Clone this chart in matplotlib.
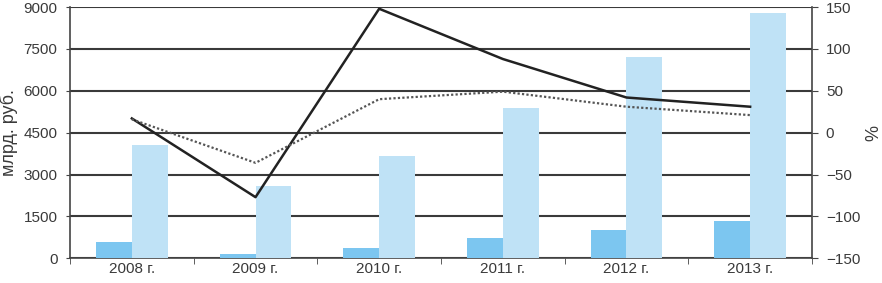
import matplotlib.pyplot as plt
import numpy as np

plt.rcParams['font.family'] = ['Liberation Sans', 'DejaVu Sans']

years = ["2008 г.", "2009 г.", "2010 г.", "2011 г.", "2012 г.", "2013 г."]
dark_bars = [600, 150, 360, 720, 1010, 1330]
light_bars = [4050, 2600, 3650, 5400, 7200, 8780]
growth_solid = [17, -77, 148, 88, 42, 31]
growth_dotted = [16, -36, 40, 49, 31, 21]

x = np.arange(len(years))
w = 0.29

fig = plt.figure(figsize=(8.82, 2.83), dpi=100)
ax = fig.add_axes([0.0794, 0.0873, 0.8412, 0.8877])

ax.bar(x - w / 2, dark_bars, w, color="#7cc6f0", zorder=3)
ax.bar(x + w / 2, light_bars, w, color="#bfe2f6", zorder=3)

ax.set_xlim(-0.5, len(years) - 0.5)
ax.set_ylim(0, 9000)
ax.set_yticks(np.arange(0, 9001, 1500))
ax.yaxis.grid(True, color="#3a3a3a", linewidth=1.5, zorder=0)
ax.set_axisbelow(True)
ax.set_xticks(x)
ax.set_xticklabels(years)
ax.set_xticks(np.arange(-0.5, len(years), 1), minor=True)
ax.tick_params(axis="x", which="major", length=0, pad=3)
ax.tick_params(axis="x", which="minor", length=4, color="#444444")
ax.tick_params(axis="y", length=3, color="#444444", pad=6)
ax.tick_params(labelsize=11, labelcolor="#3a3a3a")
ax.set_ylabel("млрд. руб.", fontsize=13, color="#3a3a3a", labelpad=4)
for s in ["top", "right"]:
    ax.spines[s].set_visible(False)
for s in ["left", "bottom"]:
    ax.spines[s].set_color("#444444")
    ax.spines[s].set_linewidth(1.2)

ax2 = ax.twinx()
ax2.plot(x, growth_solid, color="#222222", linewidth=1.8, zorder=5)
ax2.plot(x, growth_dotted, color="#555555", linewidth=1.6, linestyle=(0, (1, 1)), zorder=5)
ax2.set_ylim(-150, 150)
ax2.set_yticks(np.arange(-150, 151, 50))
ax2.set_yticklabels([str(v).replace("-", "−") if v < 0 else str(v) for v in range(-150, 151, 50)])
ax2.tick_params(axis="y", length=4, color="#444444", labelsize=11, labelcolor="#3a3a3a", pad=6)
ax2.set_ylabel("%", fontsize=13, color="#3a3a3a", labelpad=4)
for s in ["top", "left", "bottom"]:
    ax2.spines[s].set_visible(False)
ax2.spines["right"].set_color("#444444")
ax2.spines["right"].set_linewidth(1.2)

fig.savefig("out.png", dpi=100)
